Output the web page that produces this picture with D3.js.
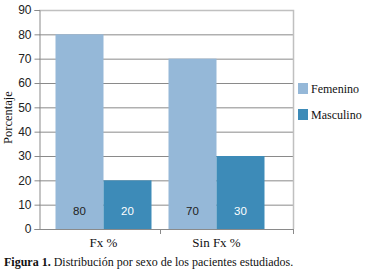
<!DOCTYPE html>
<html lang="es">
<head>
<meta charset="UTF-8">
<title>Distribución por sexo</title>
<script src="https://d3js.org/d3.v7.min.js"></script>
<style>
  body { margin: 0; background: #fff; }
  .tick-lbl { font-family: "Liberation Sans", Arial, sans-serif; font-size: 12px; fill: #222; }
</style>
</head>
<body>
<div id="chart"></div>
<script>
// data
const categories = ["Fx %", "Sin Fx %"];
const seriesNames = ["Femenino", "Masculino"];
const femenino = [80, 70];
const masculino = [20, 30];
const yTicks = [0, 10, 20, 30, 40, 50, 60, 70, 80, 90];

const colors = { Femenino: "#95b8d8", Masculino: "#3d8bb8" };
const SERIF = "'Liberation Serif', 'DejaVu Serif', 'Times New Roman', serif";

const W = 365, H = 277;
const plot = { left: 39, right: 293, top: 10, bottom: 229 };

const svg = d3.select("#chart").append("svg")
    .attr("width", W).attr("height", H);

const y = d3.scaleLinear().domain([0, 90]).range([plot.bottom, plot.top]);

// bars sit in a slightly narrower band than the frame
const x0 = d3.scaleBand().domain(categories).range([47, 273]).padding(0);
const x1 = d3.scaleBand().domain(seriesNames).range([8.5, 104.5]).padding(0);

// gridlines
svg.append("g").selectAll("line")
    .data(yTicks.filter(d => d > 0 && d < 90))
    .enter().append("line")
    .attr("x1", plot.left).attr("x2", plot.right)
    .attr("y1", d => y(d) + 0.5).attr("y2", d => y(d) + 0.5)
    .attr("stroke", "#8a8a8a").attr("stroke-width", 1);

// top and right frame
svg.append("path")
    .attr("d", `M${plot.left},${y(90) + 0.5}H${plot.right + 0.5}V${plot.bottom}`)
    .attr("fill", "none").attr("stroke", "#c0c0c0").attr("stroke-width", 1.5);

// bars
const rows = categories.map((c, i) => ({ cat: c, values: [
    { key: "Femenino", v: femenino[i] },
    { key: "Masculino", v: masculino[i] }
]}));

const groups = svg.append("g").selectAll("g")
    .data(rows).enter().append("g")
    .attr("transform", d => `translate(${x0(d.cat)},0)`);

groups.selectAll("rect")
    .data(d => d.values).enter().append("rect")
    .attr("x", d => x1(d.key))
    .attr("width", x1.bandwidth())
    .attr("y", d => y(d.v))
    .attr("height", d => y(0) - y(d.v))
    .attr("fill", d => colors[d.key]);

groups.selectAll("text")
    .data(d => d.values).enter().append("text")
    .attr("class", "tick-lbl")
    .attr("x", d => x1(d.key) + x1.bandwidth() / 2)
    .attr("y", y(0) - 14)
    .attr("text-anchor", "middle")
    .style("font-size", "11.5px")
    .style("fill", d => d.key === "Masculino" ? "#fff" : "#222")
    .text(d => d.v);

// y axis
const yAxis = svg.append("g")
    .attr("transform", `translate(${plot.left + 0.5},0)`)
    .call(d3.axisLeft(y).tickValues(yTicks).tickSize(5).tickPadding(3));
yAxis.select(".domain").attr("stroke", "#8a8a8a");
yAxis.selectAll(".tick line").attr("stroke", "#8a8a8a");
yAxis.selectAll(".tick text").attr("class", "tick-lbl").attr("font-family", null).attr("font-size", null);

// x axis line and boundary ticks
svg.append("line")
    .attr("x1", plot.left - 3).attr("x2", plot.right + 0.5)
    .attr("y1", y(0) + 0.5).attr("y2", y(0) + 0.5)
    .attr("stroke", "#8a8a8a");
svg.append("g").selectAll("line")
    .data([x0(categories[1]), plot.right])
    .enter().append("line")
    .attr("x1", d => d + 0.5).attr("x2", d => d + 0.5)
    .attr("y1", y(0)).attr("y2", y(0) + 5)
    .attr("stroke", "#8a8a8a");

svg.append("g").selectAll("text")
    .data(categories).enter().append("text")
    .attr("x", d => x0(d) + x0.bandwidth() / 2)
    .attr("y", 247)
    .attr("text-anchor", "middle")
    .style("font-family", SERIF)
    .style("font-size", "13px")
    .style("fill", "#111")
    .text(d => d);

// y title
svg.append("text")
    .attr("transform", `translate(12,${(plot.top + plot.bottom) / 2 - 2}) rotate(-90)`)
    .attr("text-anchor", "middle")
    .style("font-family", SERIF)
    .style("font-size", "12.5px")
    .style("fill", "#111")
    .text("Porcentaje");

// legend
const legend = svg.append("g").selectAll("g")
    .data(seriesNames).enter().append("g")
    .attr("transform", (d, i) => `translate(298,${83 + i * 26})`);
legend.append("rect")
    .attr("width", 10).attr("height", 11)
    .attr("fill", d => colors[d]);
legend.append("text")
    .attr("x", 13).attr("y", 10)
    .style("font-family", SERIF)
    .style("font-size", "12px")
    .style("fill", "#111")
    .text(d => d);

// caption
const cap = svg.append("text")
    .attr("x", 4).attr("y", 266)
    .style("font-family", SERIF)
    .style("font-size", "12px")
    .style("fill", "#111");
cap.append("tspan").attr("font-weight", "bold").text("Figura 1.");
cap.append("tspan").text(" Distribución por sexo de los pacientes estudiados.");
</script>
</body>
</html>
